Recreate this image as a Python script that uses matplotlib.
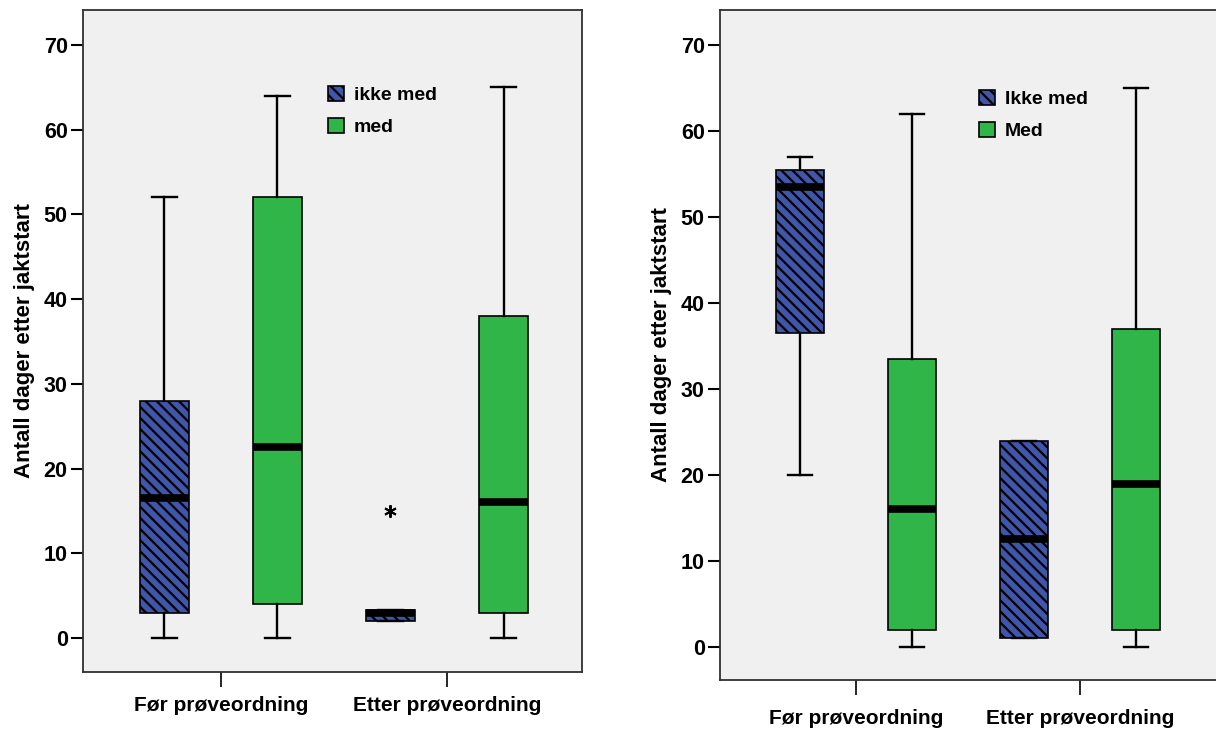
import matplotlib.pyplot as plt
from matplotlib.patches import Patch

plt.rcParams['font.family'] = ['Liberation Sans', 'DejaVu Sans']
plt.rcParams['font.weight'] = 'bold'
plt.rcParams['hatch.linewidth'] = 1.6

groups = ['Før prøveordning', 'Etter prøveordning']
y_ticks = [0, 10, 20, 30, 40, 50, 60, 70]
ylabel = 'Antall dager etter jaktstart'

# five-number summaries: (whislo, q1, med, q3, whishi), plus outliers
left_ikke = [(0, 3, 16.5, 28, 52), (2, 2, 3.0, 3.3, 3.3)]
left_ikke_out = [[], [15]]
left_med = [(0, 4, 22.5, 52, 64), (0, 3, 16, 38, 65)]
left_labels = ['ikke med', 'med']

right_ikke = [(20, 36.5, 53.5, 55.5, 57), (1, 1, 12.5, 24, 24)]
right_ikke_out = [[], []]
right_med = [(0, 2, 16, 33.5, 62), (0, 2, 19, 37, 65)]
right_labels = ['Ikke med', 'Med']

blue = '#3F56AA'
green = '#2FB548'
bg = '#F0F0F0'


def stats(rows, outliers):
    out = []
    for (lo, q1, med, q3, hi), fl in zip(rows, outliers):
        out.append(dict(whislo=lo, q1=q1, med=med, q3=q3, whishi=hi, fliers=fl))
    return out


def draw(ax, ikke, ikke_out, med, labels, leg_xy, xpad):
    ax.set_facecolor(bg)
    common = dict(widths=0.217, capwidths=0.11, patch_artist=True,
                  whiskerprops=dict(color='black', lw=1.7),
                  capprops=dict(color='black', lw=1.7),
                  medianprops=dict(color='black', lw=5.5, solid_capstyle='butt'),
                  flierprops=dict(marker=(6, 2, 0), markersize=9, color='black',
                                  markeredgecolor='black', markeredgewidth=1.4))
    b1 = ax.bxp(stats(ikke, ikke_out), positions=[-0.25, 0.75], **common)
    b2 = ax.bxp(stats(med, [[], []]), positions=[0.25, 1.25], **common)
    for p in b1['boxes']:
        p.set_facecolor(blue)
        p.set_edgecolor('black')
        p.set_linewidth(1.2)
        p.set_hatch('\\\\\\')
    for p in b2['boxes']:
        p.set_facecolor(green)
        p.set_edgecolor('black')
        p.set_linewidth(1.2)
    ax.set_xticks([0, 1])
    ax.set_xticklabels(groups, fontsize=15, fontweight='bold')
    ax.set_yticks(y_ticks)
    ax.set_yticklabels([str(v) for v in y_ticks], fontsize=15.5, fontweight='bold')
    ax.tick_params(axis='y', length=9, width=1.5, pad=2)
    ax.tick_params(axis='x', length=11, width=1.2, pad=xpad)
    ax.set_ylabel(ylabel, fontsize=16, fontweight='bold', labelpad=6)
    for s in ax.spines.values():
        s.set_color('#303030')
        s.set_linewidth(1.3)
    handles = [Patch(facecolor=blue, edgecolor='black', hatch='\\\\\\', lw=1.2),
               Patch(facecolor=green, edgecolor='black', lw=1.2)]
    ax.legend(handles, labels, loc='upper left', bbox_to_anchor=leg_xy,
              frameon=False, borderpad=0, handlelength=0.8, handleheight=0.8,
              handletextpad=0.5, labelspacing=0.7,
              prop=dict(size=14, weight='bold'))


fig = plt.figure(figsize=(12.16, 7.29), dpi=100)

axl = fig.add_axes([83 / 1216, 1 - 672 / 729, 499 / 1216, 662 / 729])
draw(axl, left_ikke, left_ikke_out, left_med, left_labels, (0.472, 0.9), 6)
axl.set_xlim(-0.61, 1.597)
axl.set_ylim(-4.0, 74.1)

axr = fig.add_axes([720 / 1216, 1 - 680 / 729, 520 / 1216, 670 / 729])
draw(axr, right_ikke, right_ikke_out, right_med, right_labels, (0.48, 0.895), 10)
axr.set_xlim(-0.607, 1.714)
axr.set_ylim(-3.84, 74.07)

fig.savefig('out.png', dpi=100)
